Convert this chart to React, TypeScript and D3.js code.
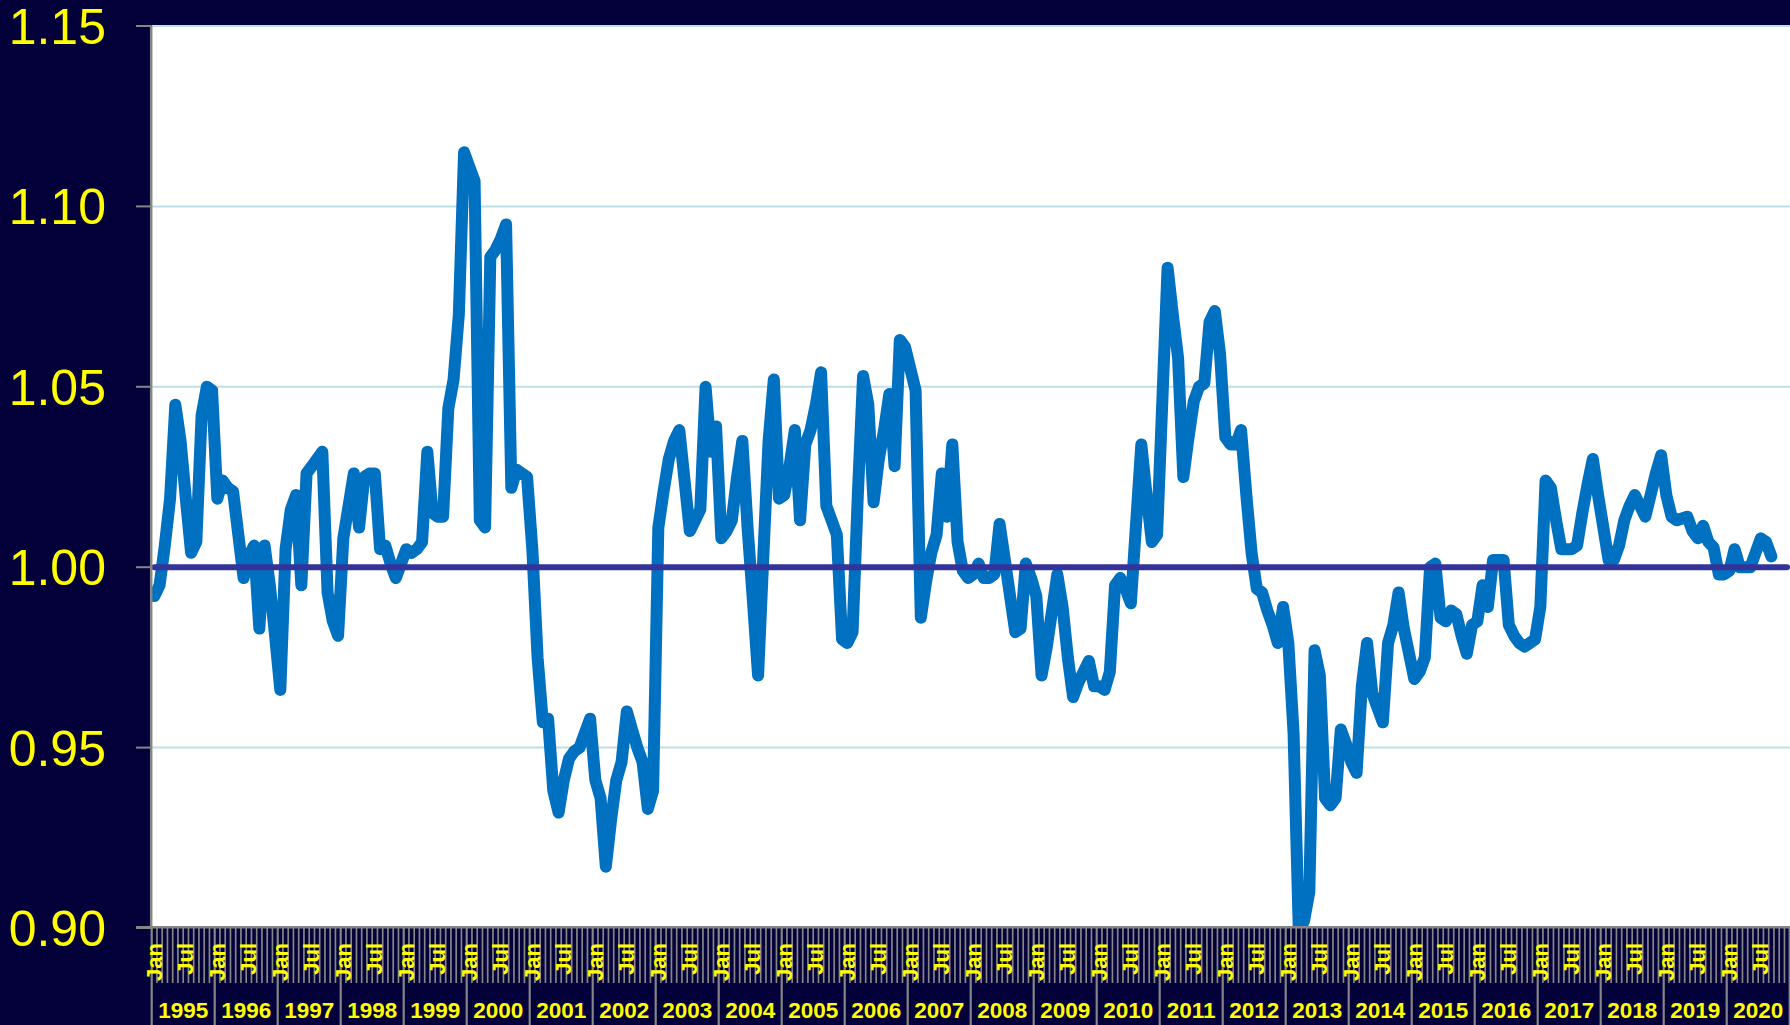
import React from "react";
import * as d3 from "d3";

// Monthly index values, Jan 1995 .. Sep 2020
const ratio: number[] = [
  // 1995
  0.992, 0.995, 1.006, 1.019, 1.045, 1.035, 1.019, 1.004, 1.007, 1.042, 1.050, 1.049,
  // 1996
  1.019, 1.024, 1.022, 1.021, 1.009, 0.997, 1.003, 1.006, 0.983, 1.006, 0.995, 0.981,
  // 1997
  0.966, 1.005, 1.016, 1.020, 0.995, 1.026, 1.028, 1.030, 1.032, 0.993, 0.985, 0.981,
  // 1998
  1.008, 1.017, 1.026, 1.011, 1.025, 1.026, 1.026, 1.005, 1.006, 1.001, 0.997, 1.001,
  // 1999
  1.005, 1.004, 1.005, 1.007, 1.032, 1.015, 1.014, 1.014, 1.044, 1.052, 1.070, 1.115,
  // 2000
  1.111, 1.107, 1.013, 1.011, 1.086, 1.088, 1.091, 1.095, 1.022, 1.027, 1.026, 1.025,
  // 2001
  1.005, 0.975, 0.957, 0.958, 0.938, 0.932, 0.941, 0.947, 0.949, 0.950, 0.954, 0.958,
  // 2002
  0.941, 0.936, 0.917, 0.930, 0.941, 0.946, 0.960, 0.955, 0.950, 0.946, 0.933, 0.938,
  // 2003
  1.011, 1.021, 1.030, 1.035, 1.038, 1.024, 1.010, 1.013, 1.016, 1.050, 1.032, 1.039,
  // 2004
  1.008, 1.010, 1.013, 1.025, 1.035, 1.011, 0.991, 0.970, 1.003, 1.035, 1.052, 1.019,
  // 2005
  1.020, 1.028, 1.038, 1.013, 1.034, 1.038, 1.045, 1.054, 1.017, 1.013, 1.009, 0.980,
  // 2006
  0.979, 0.982, 1.020, 1.053, 1.045, 1.018, 1.030, 1.038, 1.048, 1.028, 1.063, 1.061,
  // 2007
  1.055, 1.049, 0.986, 0.996, 1.004, 1.009, 1.026, 1.014, 1.034, 1.007, 0.999, 0.997,
  // 2008
  0.998, 1.001, 0.997, 0.997, 0.998, 1.012, 1.002, 0.992, 0.982, 0.983, 1.001, 0.997,
  // 2009
  0.992, 0.970, 0.978, 0.988, 0.998, 0.989, 0.975, 0.964, 0.968, 0.971, 0.974, 0.967,
  // 2010
  0.967, 0.966, 0.971, 0.995, 0.997, 0.994, 0.990, 1.012, 1.034, 1.020, 1.007, 1.009,
  // 2011
  1.046, 1.083, 1.070, 1.058, 1.025, 1.036, 1.046, 1.050, 1.051, 1.068, 1.071, 1.059,
  // 2012
  1.036, 1.034, 1.034, 1.038, 1.020, 1.004, 0.994, 0.993, 0.988, 0.984, 0.979, 0.989,
  // 2013
  0.979, 0.954, 0.899, 0.902, 0.910, 0.977, 0.970, 0.936, 0.934, 0.936, 0.955, 0.951,
  // 2014
  0.946, 0.943, 0.967, 0.979, 0.965, 0.961, 0.957, 0.979, 0.984, 0.993, 0.983, 0.976,
  // 2015
  0.969, 0.971, 0.975, 1.000, 1.001, 0.986, 0.985, 0.988, 0.987, 0.981, 0.976, 0.984,
  // 2016
  0.985, 0.995, 0.989, 1.002, 1.002, 1.002, 0.984, 0.981, 0.979, 0.978, 0.979, 0.980,
  // 2017
  0.989, 1.024, 1.022, 1.013, 1.005, 1.005, 1.005, 1.006, 1.015, 1.023, 1.030, 1.020,
  // 2018
  1.011, 1.002, 1.002, 1.006, 1.013, 1.017, 1.020, 1.017, 1.014, 1.020, 1.026, 1.031,
  // 2019
  1.020, 1.014, 1.013, 1.0135, 1.014, 1.010, 1.008, 1.0115, 1.007, 1.0055, 0.998, 0.998,
  // 2020
  0.999, 1.005, 1.000, 1.000, 1.000, 1.004, 1.008, 1.007, 1.003,
];

const yearLabels: string[] = [
  "1995", "1996", "1997", "1998", "1999", "2000", "2001", "2002", "2003",
  "2004", "2005", "2006", "2007", "2008", "2009", "2010", "2011", "2012",
  "2013", "2014", "2015", "2016", "2017", "2018", "2019", "2020",
];
const monthLabels: string[] = ["Jan", "Jul"];
const monthLabelOffsets: number[] = [0, 6];
const yTicks: number[] = [0.9, 0.95, 1.0, 1.05, 1.1, 1.15];
const referenceLevel = 1.0;

const W = 1790;
const H = 1025;
const NAVY = "#04003a";
const YELLOW = "#ffff00";
const GRAY = "#868686";
const FONT = "'Liberation Sans', Arial, Helvetica, sans-serif";

export default function App() {
  const left = 151.7;
  const right = 1789.7;
  const top = 26;
  const bottom = 928;
  const nMonths = yearLabels.length * 12;

  const x = d3.scaleLinear().domain([0, nMonths]).range([left, right]);
  const y = d3.scaleLinear().domain([0.9, 1.15]).range([bottom, top]);
  const fmt = d3.format(".2f");

  const linePath =
    d3
      .line<number>()
      .x((_, i) => x(i + 0.5))
      .y((d) => y(d))(ratio) || "";

  const refPath =
    d3
      .line<number>()
      .x((d) => x(d))
      .y(() => y(referenceLevel))([0.5, nMonths - 0.5]) || "";

  const monthTicks = d3.range(nMonths + 1);

  return (
    <svg
      width={W}
      height={H}
      viewBox={`0 0 ${W} ${H}`}
      style={{ position: "fixed", left: 0, top: 0, display: "block" }}
    >
      <defs>
        <clipPath id="plotClip">
          <rect x={left} y={top} width={W - left} height={bottom - top - 1} />
        </clipPath>
      </defs>
      <rect x={0} y={0} width={W} height={H} fill={NAVY} />
      <rect x={left} y={top} width={W - left} height={bottom - top} fill="#ffffff" />

      {/* gridlines */}
      {yTicks
        .filter((t) => t > 0.9)
        .map((t) => (
          <line
            key={"g" + t}
            x1={left}
            x2={W}
            y1={y(t)}
            y2={y(t)}
            stroke="#bde0e8"
            strokeWidth={2}
          />
        ))}

      <g clipPath="url(#plotClip)">
        <path
          d={linePath}
          fill="none"
          stroke="#0070c0"
          strokeWidth={12}
          strokeLinejoin="round"
          strokeLinecap="round"
        />
        <path
          d={refPath}
          fill="none"
          stroke="#333399"
          strokeWidth={6}
          strokeLinecap="round"
        />
      </g>

      {/* month tick lines under the axis */}
      {monthTicks.map((k) => (
        <line
          key={"m" + k}
          x1={x(k)}
          x2={x(k)}
          y1={bottom}
          y2={k % 12 === 0 ? H : 983}
          stroke={GRAY}
          strokeWidth={k % 12 === 0 ? 2.2 : 1.7}
        />
      ))}

      {/* axes */}
      <line x1={left - 0.5} x2={left - 0.5} y1={top} y2={bottom} stroke={GRAY} strokeWidth={2.5} />
      <line x1={136} x2={W} y1={bottom - 0.8} y2={bottom - 0.8} stroke={GRAY} strokeWidth={2.5} />
      {yTicks.map((t) => (
        <line
          key={"t" + t}
          x1={136}
          x2={left}
          y1={y(t)}
          y2={y(t)}
          stroke={GRAY}
          strokeWidth={2}
        />
      ))}

      {/* y labels */}
      {yTicks.map((t) => (
        <text
          key={"yl" + t}
          x={106}
          y={y(t) + 18}
          textAnchor="end"
          fill={YELLOW}
          fontFamily={FONT}
          fontSize={50}
        >
          {fmt(t)}
        </text>
      ))}

      {/* month labels */}
      {yearLabels.map((yr, yi) =>
        monthLabels.map((lab, li) => {
          const cx = x(yi * 12 + monthLabelOffsets[li] + 0.5);
          return (
            <text
              key={yr + lab}
              transform={`translate(${cx},943) rotate(-90)`}
              textAnchor="end"
              dominantBaseline="central"
              fill={YELLOW}
              fontFamily={FONT}
              fontWeight="bold"
              fontSize={22}
            >
              {lab}
            </text>
          );
        })
      )}

      {/* year labels */}
      {yearLabels.map((yr, yi) => (
        <text
          key={"y" + yr}
          x={x(yi * 12 + 6)}
          y={1018}
          textAnchor="middle"
          fill={YELLOW}
          fontFamily={FONT}
          fontWeight="bold"
          fontSize={22.5}
        >
          {yr}
        </text>
      ))}
    </svg>
  );
}
